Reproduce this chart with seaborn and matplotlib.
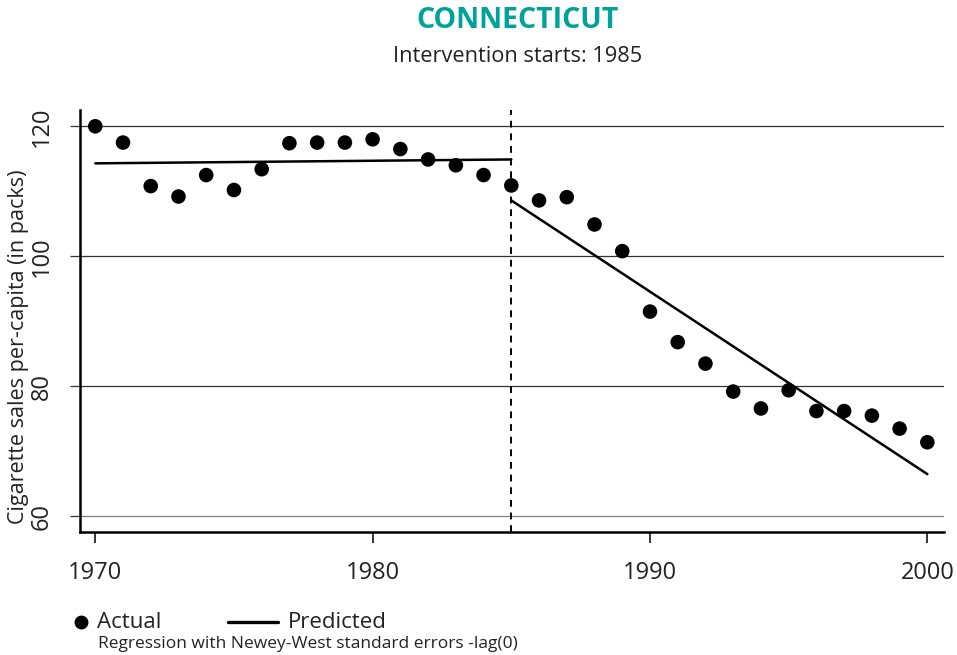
import matplotlib
matplotlib.use("Agg")
import matplotlib.pyplot as plt
from matplotlib.lines import Line2D
import seaborn as sns
import pandas as pd

# Annual per-capita cigarette sales, Connecticut
years = list(range(1970, 2001))
actual = [120.0, 117.5, 110.8, 109.2, 112.5, 110.2, 113.4, 117.4, 117.5, 117.5,
          118.0, 116.5, 114.9, 114.0, 112.5, 110.9, 108.6, 109.1, 104.9, 100.8,
          91.5, 86.8, 83.5, 79.2, 76.6, 79.4, 76.2, 76.2, 75.5, 73.5, 71.4]

# Fitted segments before and after the intervention
pre_years = [1970, 1985]
pre_fit = [114.3, 114.9]
post_years = [1985, 2000]
post_fit = [108.6, 66.5]

intervention_year = 1985
y_ticks = [60, 80, 100, 120]
x_ticks = [1970, 1980, 1990, 2000]

sns.set_theme(style="white")
plt.rcParams["font.family"] = ["Open Sans", "DejaVu Sans"]

df = pd.DataFrame({"year": years, "sales": actual})
fit = pd.DataFrame({
    "year": pre_years + post_years,
    "sales": pre_fit + post_fit,
    "segment": ["pre"] * 2 + ["post"] * 2,
})

W, H = 957, 655
fig = plt.figure(figsize=(W / 100, H / 100), dpi=100)
ax = fig.add_axes([0.0836, 0.1878, 0.9028, 0.6442])

for y in y_ticks:
    ax.axhline(y, color="#333333" if y != 60 else "#808080", lw=0.9, zorder=0)

ax.axvline(intervention_year, color="black", lw=1.4, ls=(0, (3.5, 3)), zorder=1)

sns.lineplot(data=fit, x="year", y="sales", units="segment", estimator=None,
             color="black", lw=1.8, ax=ax, legend=False, zorder=2)
sns.scatterplot(data=df, x="year", y="sales", color="black", s=110,
                edgecolor="none", ax=ax, legend=False, zorder=3)

ax.set_xlim(1969.45, 2000.6)
ax.set_ylim(57.6, 122.5)
ax.set_xticks(x_ticks)
ax.set_yticks(y_ticks)
ax.set_xticklabels([str(v) for v in x_ticks], fontsize=17, color="#222222")
ax.set_yticklabels([str(v) for v in y_ticks], fontsize=17, color="#222222",
                   rotation=90, va="center")
ax.tick_params(axis="x", which="major", length=8, width=1.1, color="black",
               direction="out", bottom=True, pad=13)
ax.tick_params(axis="y", which="major", length=7, width=0.9, color="#333333",
               direction="out", left=True, pad=12)

ax.set_xlabel("")
ax.set_ylabel("Cigarette sales per-capita (in packs)", fontsize=15.5,
              color="#222222")
ax.yaxis.set_label_coords(-0.059, 0.44)

for side in ("top", "right"):
    ax.spines[side].set_visible(False)
for side in ("left", "bottom"):
    ax.spines[side].set_color("black")
    ax.spines[side].set_linewidth(1.8)

fig.text(0.541, 1 - 20 / H, "CONNECTICUT", ha="center", va="center",
         fontsize=20.5, fontweight="bold", color="#00A39A")
fig.text(0.541, 1 - 56 / H, "Intervention starts: 1985", ha="center",
         va="center", fontsize=15.7, color="#222222")

# Legend row below the axes
leg_y = 1 - 622 / H
fig.add_artist(Line2D([81 / W], [leg_y], marker="o", color="none",
                      markerfacecolor="black", markeredgecolor="none",
                      markersize=10, transform=fig.transFigure))
fig.text(97 / W, leg_y, "Actual", ha="left", va="center", fontsize=16,
         color="#222222")
fig.add_artist(Line2D([228 / W, 278 / W], [leg_y, leg_y], color="black",
                      lw=2.4, transform=fig.transFigure))
fig.text(288 / W, leg_y, "Predicted", ha="left", va="center", fontsize=16,
         color="#222222")
fig.text(98 / W, 1 - 644 / H,
         "Regression with Newey-West standard errors -lag(0)",
         ha="left", va="center", fontsize=12.5, color="#222222")

fig.savefig("out.png", dpi=100)
